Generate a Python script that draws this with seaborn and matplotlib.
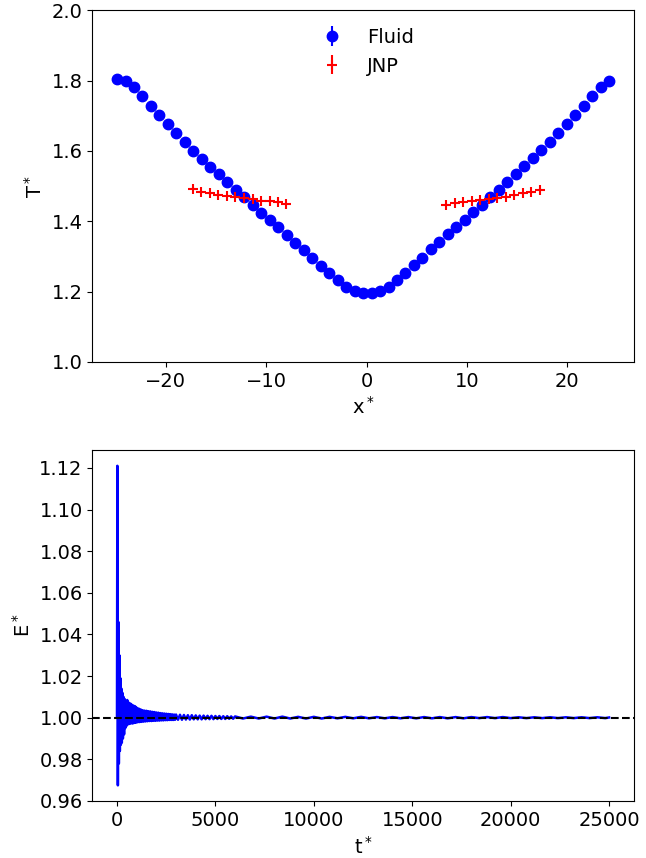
import numpy as np
import matplotlib
matplotlib.use("Agg")
import matplotlib.pyplot as plt
import seaborn as sns

# temperature profile, fluid bins
x_fluid = [-24.85, -24.0, -23.16, -22.31, -21.47, -20.62, -19.78, -18.93, -18.09, -17.24,
           -16.40, -15.55, -14.71, -13.86, -13.02, -12.17, -11.33, -10.48, -9.64, -8.79,
           -7.95, -7.10, -6.26, -5.41, -4.57, -3.72, -2.88, -2.03, -1.19, -0.34,
           0.50, 1.35, 2.19, 3.04, 3.88, 4.73, 5.57, 6.42, 7.26, 8.11,
           8.95, 9.80, 10.64, 11.49, 12.33, 13.18, 14.02, 14.87, 15.71, 16.56,
           17.40, 18.25, 19.09, 19.94, 20.78, 21.63, 22.47, 23.32, 24.16]
t_fluid = [1.805, 1.798, 1.781, 1.757, 1.729, 1.702, 1.677, 1.651, 1.626, 1.601,
           1.578, 1.555, 1.533, 1.511, 1.490, 1.468, 1.445, 1.424, 1.404, 1.383,
           1.361, 1.339, 1.318, 1.296, 1.274, 1.254, 1.233, 1.214, 1.201, 1.195,
           1.195, 1.203, 1.214, 1.232, 1.254, 1.276, 1.296, 1.320, 1.341, 1.363,
           1.384, 1.404, 1.425, 1.445, 1.468, 1.490, 1.512, 1.535, 1.556, 1.580,
           1.603, 1.626, 1.652, 1.677, 1.703, 1.729, 1.757, 1.783, 1.798]

# JNP temperatures, two groups
x_jnp = [-17.30, -16.45, -15.60, -14.75, -13.90, -13.05, -12.20, -11.35, -10.50, -9.65, -8.80, -7.97,
         7.93, 8.78, 9.63, 10.48, 11.33, 12.18, 13.03, 13.88, 14.73, 15.58, 16.43, 17.32]
t_jnp = [1.492, 1.484, 1.479, 1.476, 1.472, 1.469, 1.466, 1.462, 1.459, 1.457, 1.454, 1.449,
         1.447, 1.452, 1.455, 1.458, 1.461, 1.463, 1.466, 1.470, 1.474, 1.479, 1.483, 1.490]

# total energy vs time
t_energy = [0, 20, 45, 70, 95, 120, 145, 170, 195, 220, 245, 270, 300, 330, 360, 390, 420, 450,
            480, 520, 560, 600, 640, 680, 720, 760, 800, 840, 880, 920, 960, 1000,
            1050, 1100, 1150, 1200, 1250, 1300, 1350, 1400, 1450, 1500, 1550, 1600, 1650, 1700,
            1750, 1800, 1850, 1900, 1950, 2000, 2050, 2100, 2150, 2200, 2250, 2300, 2350, 2400,
            2450, 2500, 2550, 2600, 2650, 2700, 2750, 2800, 2850, 2900, 2950, 3000,
            3100, 3200, 3300, 3400, 3500, 3600, 3700, 3800, 3900, 4000, 4100, 4200, 4300, 4400,
            4500, 4600, 4700, 4800, 4900, 5000, 5100, 5200, 5300, 5400, 5500, 5600, 5700, 5800,
            5900, 6000,
            6400, 6800, 7200, 7600, 8000, 8400, 8800, 9200, 9600, 10000, 10400, 10800, 11200,
            11600, 12000, 12400, 12800, 13200, 13600, 14000, 14400, 14800, 15200, 15600, 16000,
            16400, 16800, 17200, 17600, 18000, 18400, 18800, 19200, 19600, 20000, 20400, 20800,
            21200, 21600, 22000, 22400, 22800, 23200, 23600, 24000, 24400, 24800, 25000]
e_energy = [1.000, 1.121, 0.9675, 1.046, 0.978, 1.030, 0.984, 1.019, 0.987, 1.014, 0.988, 1.012,
            0.990, 1.010, 0.992, 1.009, 0.995, 1.008,
            0.996, 1.0085, 0.9968, 1.0072, 0.9970, 1.0068, 0.9973, 1.0062, 0.9972, 1.0058, 0.9975,
            1.0055, 0.9976, 1.0048,
            0.9978, 1.0044, 0.9979, 1.0040, 0.9980, 1.0036, 0.9981, 1.0034, 0.9982, 1.0033,
            0.9983, 1.0031, 0.9984, 1.0030, 0.9984, 1.0028, 0.9985, 1.0027, 0.9985, 1.0025,
            0.9986, 1.0024, 0.9986, 1.0022, 0.9987, 1.0021, 0.9987, 1.0020, 0.9988, 1.0019,
            0.9988, 1.0018, 0.9989, 1.0017, 0.9989, 1.0016, 0.9989, 1.0015, 0.9990, 1.0015,
            0.9990, 1.0014, 0.9990, 1.0013, 0.9991, 1.0012, 0.9991, 1.0012, 0.9992, 1.0011,
            0.9992, 1.0010, 0.9992, 1.0010, 0.9993, 1.0009, 0.9993, 1.0009, 0.9993, 1.0008,
            0.9994, 1.0008, 0.9994, 1.0007, 0.9994, 1.0007, 0.9995, 1.0006, 0.9995, 1.0006,
            0.9996, 1.0005, 0.9996, 1.0005, 0.9996, 1.0005, 0.9996, 1.0004, 0.9996, 1.0004,
            0.9996, 1.0004, 0.9997, 1.0004, 0.9997, 1.0004, 0.9997, 1.0003, 0.9997, 1.0003,
            0.9997, 1.0003, 0.9997, 1.0003, 0.9997, 1.0003, 0.9997, 1.0003, 0.9997, 1.0003,
            0.9998, 1.0003, 0.9998, 1.0003, 0.9998, 1.0002, 0.9998, 1.0002, 0.9998, 1.0002,
            0.9998, 1.0002, 0.9998, 1.0002, 0.9998, 1.0002, 0.9998, 1.0001]

plt.rcParams["font.size"] = 14

fig, (ax1, ax2) = plt.subplots(2, 1, figsize=(6.46, 8.58), dpi=100)
fig.subplots_adjust(left=0.143, right=0.981, top=0.988, bottom=0.066, hspace=0.25)

ax1.errorbar(x_fluid, t_fluid, yerr=0.004, fmt="o", color="blue", markersize=7.5, label="Fluid")
ax1.errorbar(x_jnp, t_jnp, yerr=0.004, fmt="+", color="red", markersize=7,
             markeredgewidth=1.5, label="JNP")
ax1.set_ylim(1.0, 2.0)
ax1.set_xlabel("x$^*$")
ax1.set_ylabel("T$^*$")
ax1.legend(loc="upper center", frameon=False)

sns.lineplot(x=t_energy, y=e_energy, ax=ax2, color="blue", linewidth=1.8)
ax2.axhline(1.0, color="black", linestyle="--", linewidth=1.5, zorder=5)
ax2.set_ylim(0.9598, 1.1287)
ax2.set_yticks([0.96, 0.98, 1.00, 1.02, 1.04, 1.06, 1.08, 1.10, 1.12])
ax2.set_xticks([0, 5000, 10000, 15000, 20000, 25000])
ax2.set_xlabel("t$^*$")
ax2.set_ylabel("E$^*$")

fig.savefig("out.png", dpi=100)
